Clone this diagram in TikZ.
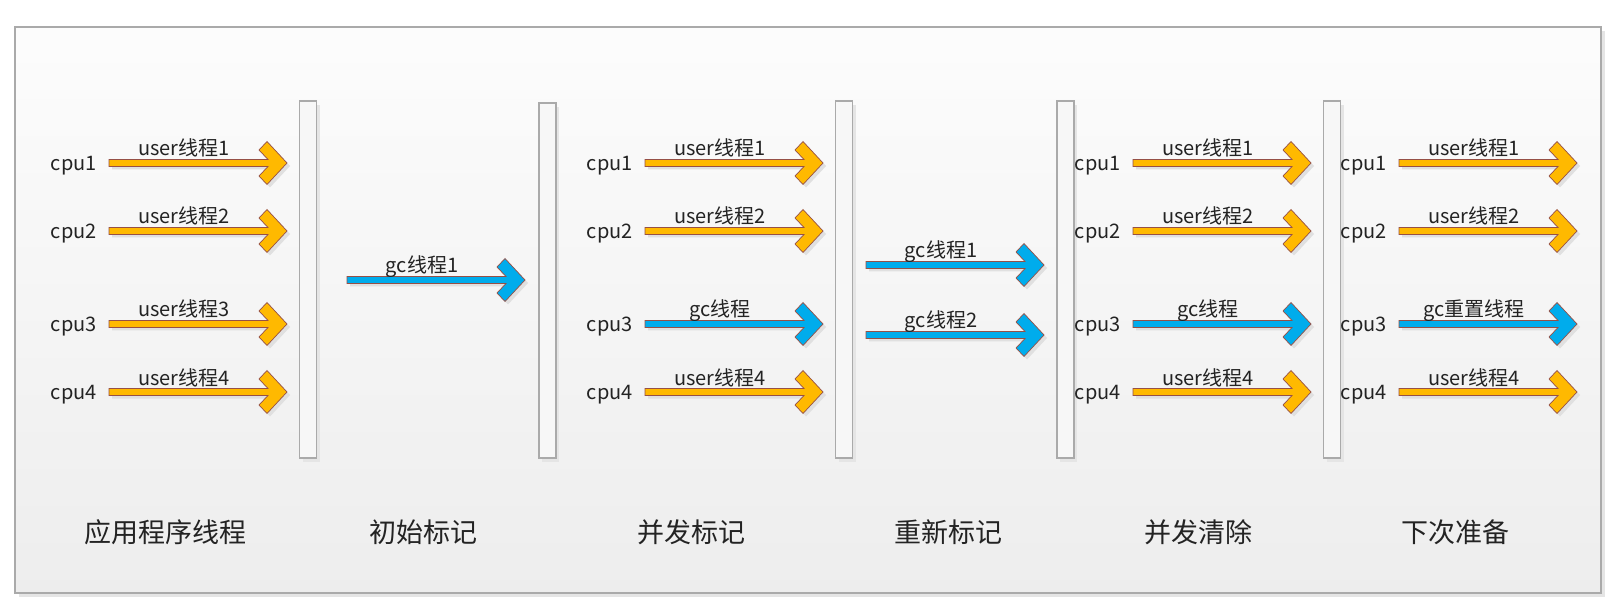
\documentclass[tikz,border=0pt]{standalone}
\usepackage{fontspec}
\setmainfont{Noto Sans CJK SC}
\usetikzlibrary{positioning,shadows}

\definecolor{userorange}{RGB}{255,185,0}
\definecolor{gcblue}{RGB}{0,172,236}
\definecolor{arrowedge}{RGB}{150,80,70}
\definecolor{bargray}{RGB}{170,170,170}
\definecolor{textgray}{RGB}{35,35,35}

\newcommand{\fatpath}{(0,-3.5) -- (159,-3.5) -- (150,-13) -- (158,-21.5) -- (178,0) -- (158,21.5) -- (150,13) -- (159,3.5) -- (0,3.5) -- cycle}

\tikzset{
  fatarrow/.pic={
    \fill[black!12,shift={(3,3)}] \fatpath;
    \draw[draw=arrowedge,line width=0.7pt,pic actions] \fatpath;
  },
  cpu/.style={font=\fontsize{20}{24}\selectfont,text=textgray,inner sep=0pt,yshift=-2.5pt},
  tlabel/.style={font=\fontsize{20}{24}\selectfont,text=textgray,inner sep=0pt,anchor=base},
  phase/.style={font=\fontsize{27}{32}\selectfont,text=textgray},
  bar/.style={draw=bargray,line width=1.2pt,fill=black!3,minimum width=17pt,inner sep=0pt,
    drop shadow={shadow xshift=3pt,shadow yshift=-4pt,fill=black!10,opacity=1}}
}

\begin{document}
\begin{tikzpicture}[x=1pt,y=-1pt]
\useasboundingbox (0,0) rectangle (1612,612);

% frame
\fill[black!10] (19,31) rectangle (1605,597);
\draw[bargray,line width=1.5pt,top color=black!1,bottom color=black!7] (15,27) rectangle (1601,593);

% bars
\node[bar,minimum height=357pt] (b1) at (308,279.5) {};
\node[bar,minimum height=355pt] (b2) at (547.5,280.5) {};
\node[bar,minimum height=357pt] (b3) at (844,279.5) {};
\node[bar,minimum height=357pt] (b4) at (1065.5,279.5) {};
\node[bar,minimum height=357pt] (b5) at (1332,279.5) {};

% application threads
\coordinate (s11) at (109,163);
\coordinate (s12) at (109,231);
\coordinate (s13) at (109,324);
\coordinate (s14) at (109,392);
\node[cpu,left=12pt of s11] (c11) {cpu1};
\node[cpu,left=12pt of s12] (c12) {cpu2};
\node[cpu,left=12pt of s13] (c13) {cpu3};
\node[cpu,left=12pt of s14] (c14) {cpu4};
\pic[fill=userorange] at (s11) {fatarrow};
\pic[fill=userorange] at (s12) {fatarrow};
\pic[fill=userorange] at (s13) {fatarrow};
\pic[fill=userorange] at (s14) {fatarrow};
\node[tlabel] (l11) at ([xshift=75pt,yshift=7pt]s11) {user线程1};
\node[tlabel] (l12) at ([xshift=75pt,yshift=7pt]s12) {user线程2};
\node[tlabel] (l13) at ([xshift=75pt,yshift=7pt]s13) {user线程3};
\node[tlabel] (l14) at ([xshift=75pt,yshift=7pt]s14) {user线程4};

% initial mark
\coordinate (s21) at (347,280);
\pic[fill=gcblue] at (s21) {fatarrow};
\node[tlabel] (l21) at ([xshift=75pt,yshift=7pt]s21) {gc线程1};

% concurrent mark
\coordinate (s31) at (645,163);
\coordinate (s32) at (645,231);
\coordinate (s33) at (645,324);
\coordinate (s34) at (645,392);
\node[cpu,left=12pt of s31] (c31) {cpu1};
\node[cpu,left=12pt of s32] (c32) {cpu2};
\node[cpu,left=12pt of s33] (c33) {cpu3};
\node[cpu,left=12pt of s34] (c34) {cpu4};
\pic[fill=userorange] at (s31) {fatarrow};
\pic[fill=userorange] at (s32) {fatarrow};
\pic[fill=gcblue] at (s33) {fatarrow};
\pic[fill=userorange] at (s34) {fatarrow};
\node[tlabel] (l31) at ([xshift=75pt,yshift=7pt]s31) {user线程1};
\node[tlabel] (l32) at ([xshift=75pt,yshift=7pt]s32) {user线程2};
\node[tlabel] (l33) at ([xshift=75pt,yshift=7pt]s33) {gc线程};
\node[tlabel] (l34) at ([xshift=75pt,yshift=7pt]s34) {user线程4};

% remark
\coordinate (s41) at (866,265);
\coordinate (s42) at (866,335);
\pic[fill=gcblue] at (s41) {fatarrow};
\pic[fill=gcblue] at (s42) {fatarrow};
\node[tlabel] (l41) at ([xshift=75pt,yshift=7pt]s41) {gc线程1};
\node[tlabel] (l42) at ([xshift=75pt,yshift=7pt]s42) {gc线程2};

% concurrent sweep
\coordinate (s51) at (1133,163);
\coordinate (s52) at (1133,231);
\coordinate (s53) at (1133,324);
\coordinate (s54) at (1133,392);
\node[cpu,left=12pt of s51] (c51) {cpu1};
\node[cpu,left=12pt of s52] (c52) {cpu2};
\node[cpu,left=12pt of s53] (c53) {cpu3};
\node[cpu,left=12pt of s54] (c54) {cpu4};
\pic[fill=userorange] at (s51) {fatarrow};
\pic[fill=userorange] at (s52) {fatarrow};
\pic[fill=gcblue] at (s53) {fatarrow};
\pic[fill=userorange] at (s54) {fatarrow};
\node[tlabel] (l51) at ([xshift=75pt,yshift=7pt]s51) {user线程1};
\node[tlabel] (l52) at ([xshift=75pt,yshift=7pt]s52) {user线程2};
\node[tlabel] (l53) at ([xshift=75pt,yshift=7pt]s53) {gc线程};
\node[tlabel] (l54) at ([xshift=75pt,yshift=7pt]s54) {user线程4};

% next round
\coordinate (s61) at (1399,163);
\coordinate (s62) at (1399,231);
\coordinate (s63) at (1399,324);
\coordinate (s64) at (1399,392);
\node[cpu,left=12pt of s61] (c61) {cpu1};
\node[cpu,left=12pt of s62] (c62) {cpu2};
\node[cpu,left=12pt of s63] (c63) {cpu3};
\node[cpu,left=12pt of s64] (c64) {cpu4};
\pic[fill=userorange] at (s61) {fatarrow};
\pic[fill=userorange] at (s62) {fatarrow};
\pic[fill=gcblue] at (s63) {fatarrow};
\pic[fill=userorange] at (s64) {fatarrow};
\node[tlabel] (l61) at ([xshift=75pt,yshift=7pt]s61) {user线程1};
\node[tlabel] (l62) at ([xshift=75pt,yshift=7pt]s62) {user线程2};
\node[tlabel] (l63) at ([xshift=75pt,yshift=7pt]s63) {gc重置线程};
\node[tlabel] (l64) at ([xshift=75pt,yshift=7pt]s64) {user线程4};

% phase names
\node[phase] (p1) at (165,532) {应用程序线程};
\node[phase] (p2) at (423,532) {初始标记};
\node[phase] (p3) at (691,532) {并发标记};
\node[phase] (p4) at (948,532) {重新标记};
\node[phase] (p5) at (1198,532) {并发清除};
\node[phase] (p6) at (1455,532) {下次准备};

\end{tikzpicture}
\end{document}
